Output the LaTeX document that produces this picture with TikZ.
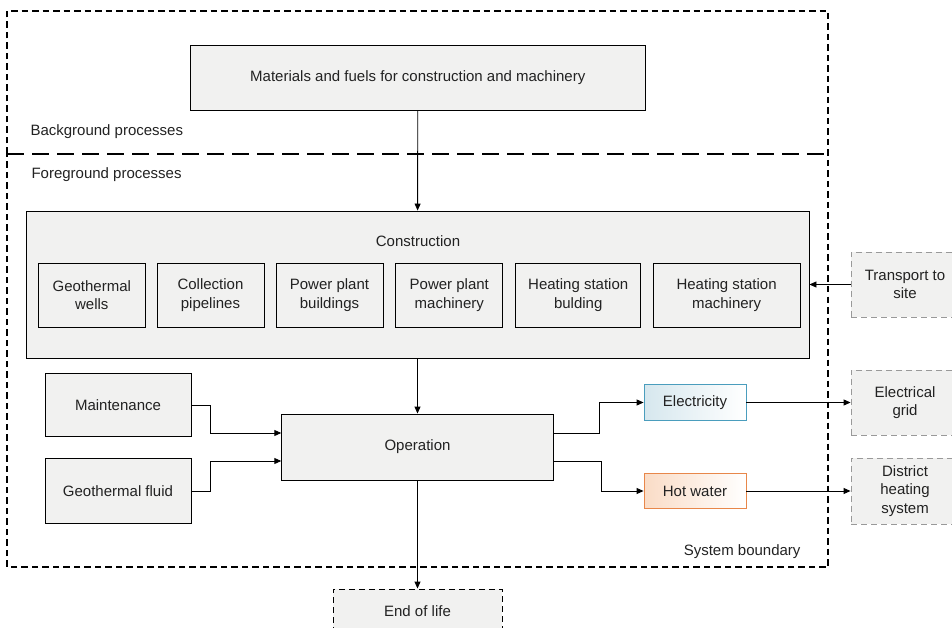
\documentclass[tikz,border=0pt]{standalone}
\usepackage{fontspec}
\setmainfont{Liberation Sans}
\usetikzlibrary{arrows.meta,positioning}
\definecolor{boxgray}{HTML}{F1F1F0}
\definecolor{dashgray}{HTML}{999999}
\definecolor{elecblue}{HTML}{4A9DBD}
\definecolor{elecfill}{HTML}{D6E7EE}
\definecolor{hotorange}{HTML}{E8874A}
\definecolor{hotfill}{HTML}{FADCC6}
\definecolor{textgray}{HTML}{222222}
\newcommand{\diagfont}{\fontsize{15}{18.5}\selectfont}
\begin{document}
\begin{tikzpicture}[x=1pt, y=-1pt, >={Triangle[length=7pt,width=6pt]},
  main node/.style={rectangle, draw, line width=0.9pt, fill=boxgray, align=center, inner sep=0pt},
  ext node/.style={main node, draw=dashgray, dash pattern=on 6pt off 4pt},
  flow/.style={->, line width=0.9pt}]
        \tikzstyle{every node}=[font=\diagfont, text=textgray]
        \useasboundingbox (0,0) rectangle (952,628);

          % system boundary
          \draw[line width=1.1pt, dash pattern=on 6.5pt off 4pt] (7,154) -- (7,11) -- (828,11) -- (828,567) -- (7,567) -- cycle;
          \draw[line width=1.1pt, dash pattern=on 17pt off 8pt] (7,154) -- (828,154);
          \node[anchor=west] (bglabel) at (27,132) {Background processes};
          \node[anchor=west] (fglabel) at (28,175) {Foreground processes};
          \node[anchor=east] (sblabel) at (804,552) {System boundary};

          \node[main node, minimum width=455, minimum height=65] (mat) at (417.8,77.5) {Materials and fuels for construction and machinery};

          \node[main node, minimum width=783, minimum height=147] (cons) at (417.5,284.5) {};
          \node (constitle) at (418,241) {Construction};
          \node[main node, minimum width=106.5, minimum height=64] (wells) at (91.8,295) {Geothermal\\wells};
          \node[main node, minimum width=107, minimum height=64] (pipes) at (210.5,295) {Collection\\pipelines};
          \node[main node, minimum width=107, minimum height=64] (ppb) at (329.5,295) {Power plant\\buildings};
          \node[main node, minimum width=107, minimum height=64] (ppm) at (449.3,295) {Power plant\\machinery};
          \node[main node, minimum width=125, minimum height=64] (hsb) at (578.2,295) {Heating station\\bulding};
          \node[main node, minimum width=147, minimum height=64] (hsm) at (726.6,295) {Heating station\\machinery};

          \node[main node, minimum width=146, minimum height=63.5] (maint) at (118,405) {Maintenance};
          \node[main node, minimum width=146, minimum height=65] (fluid) at (118,491) {Geothermal fluid};
          \node[main node, minimum width=271.5, minimum height=66] (ops) at (417.5,447) {Operation};

          \node[main node, draw=elecblue, left color=elecfill, right color=white, minimum width=102, minimum height=35.5] (elec) at (695,402.5) {Electricity};
          \node[main node, draw=hotorange, left color=hotfill, right color=white, minimum width=102, minimum height=35] (hot) at (695,491) {Hot water};

          \node[ext node, minimum width=108, minimum height=65] (trans) at (905,284.5) {Transport to\\site};
          \node[ext node, minimum width=108, minimum height=65] (grid) at (905,402.5) {Electrical\\grid};
          \node[ext node, minimum width=108, minimum height=66] (dhs) at (905,491) {District\\heating\\system};
          \node[ext node, draw=black, minimum width=169, minimum height=44] (eol) at (417.5,611) {End of life};

          \draw[flow] (mat) -- (cons);
          \draw[flow] (trans) -- (cons.east |- trans);
          \draw[flow] (cons) -- (ops);
          \draw[flow] (maint.east) -- ++(19,0) |- ([yshift=14pt]ops.west);
          \draw[flow] (fluid.east) -- ++(19,0) |- ([yshift=-14pt]ops.west);
          \draw[flow] ([yshift=14pt]ops.east) -- ++(46,0) |- (elec.west);
          \draw[flow] ([yshift=-14pt]ops.east) -- ++(48,0) |- (hot.west);
          \draw[flow] (elec) -- (grid);
          \draw[flow] (hot) -- (dhs);
          \draw[flow] (ops) -- (eol);

        \end{tikzpicture}
\end{document}
